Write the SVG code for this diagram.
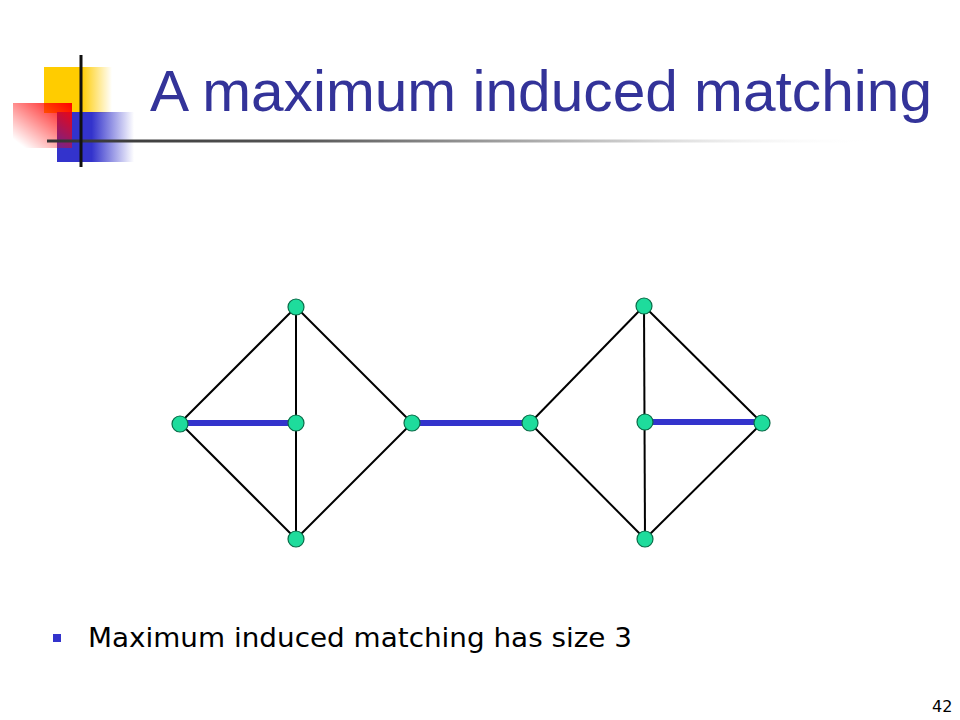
<svg xmlns="http://www.w3.org/2000/svg" width="960" height="720" viewBox="0 0 960 720">
<defs>
<linearGradient id="gY" x1="0" y1="0" x2="1" y2="0">
<stop offset="0" stop-color="#ffcc00"/><stop offset="0.55" stop-color="#ffcc00"/><stop offset="1" stop-color="#ffcc00" stop-opacity="0"/>
</linearGradient>
<linearGradient id="gB" x1="0" y1="0" x2="1" y2="0">
<stop offset="0" stop-color="#3333cc"/><stop offset="0.45" stop-color="#3333cc"/><stop offset="1" stop-color="#3333cc" stop-opacity="0"/>
</linearGradient>
<linearGradient id="gR" x1="1" y1="0" x2="0" y2="1">
<stop offset="0" stop-color="#ff0000"/><stop offset="0.9" stop-color="#ff0000" stop-opacity="0"/>
</linearGradient>
<linearGradient id="gL" x1="0" y1="0" x2="1" y2="0">
<stop offset="0" stop-color="#333333"/><stop offset="0.3" stop-color="#555555"/><stop offset="0.7" stop-color="#cccccc"/><stop offset="1" stop-color="#ffffff" stop-opacity="0"/>
</linearGradient>
<style>
.e{stroke:#000;stroke-width:2;fill:none}
.m{stroke:#3333cc;stroke-width:6;fill:none}
.n{fill:#1edc9c;stroke:#0a6b48;stroke-width:1.2}
.t{font-family:"DejaVu Sans","Liberation Sans",sans-serif}
.h{font-family:"Liberation Sans",Arial,sans-serif}
</style>
</defs>
<rect width="960" height="720" fill="#fff"/>
<g id="logo">
<rect x="44" y="67" width="68" height="46" fill="url(#gY)"/>
<rect x="57" y="112" width="77" height="50" fill="url(#gB)"/>
<rect x="13" y="103" width="59" height="45" fill="url(#gR)"/>
<rect x="47" y="139.5" width="828" height="3" fill="url(#gL)"/>
<line x1="81" y1="55" x2="81" y2="167" stroke="#111" stroke-width="3"/>
</g>
<text class="h" x="150" y="111" font-size="58" fill="#333399" textLength="782" lengthAdjust="spacingAndGlyphs">A maximum induced matching</text>
<g id="edges">
<line class="e" x1="296" y1="307" x2="180" y2="423"/>
<line class="e" x1="296" y1="307" x2="412" y2="423"/>
<line class="e" x1="296" y1="307" x2="296" y2="539"/>
<line class="e" x1="180" y1="423" x2="296" y2="539"/>
<line class="e" x1="412" y1="423" x2="296" y2="539"/>
<line class="m" x1="180" y1="423" x2="296" y2="423"/>
<line class="m" x1="412" y1="423" x2="530" y2="423"/>
<line class="e" x1="644" y1="306" x2="530" y2="423"/>
<line class="e" x1="644" y1="306" x2="762" y2="423"/>
<line class="e" x1="644" y1="306" x2="645" y2="539"/>
<line class="e" x1="530" y1="423" x2="645" y2="539"/>
<line class="e" x1="762" y1="423" x2="645" y2="539"/>
<line class="m" x1="645" y1="422" x2="762" y2="422"/>
</g>
<g id="n1"><circle class="n" cx="296" cy="307" r="8"/></g>
<g id="n2"><circle class="n" cx="180" cy="424" r="8"/></g>
<g id="n3"><circle class="n" cx="296" cy="423" r="8"/></g>
<g id="n4"><circle class="n" cx="412" cy="423" r="8"/></g>
<g id="n5"><circle class="n" cx="296" cy="539" r="8"/></g>
<g id="n6"><circle class="n" cx="644" cy="306" r="8"/></g>
<g id="n7"><circle class="n" cx="530" cy="423" r="8"/></g>
<g id="n8"><circle class="n" cx="645" cy="422" r="8"/></g>
<g id="n9"><circle class="n" cx="762" cy="423" r="8"/></g>
<g id="n10"><circle class="n" cx="645" cy="539" r="8"/></g>
<rect x="53" y="634" width="8" height="8" fill="#3333cc"/>
<text class="t" x="88" y="647" font-size="27" fill="#000" textLength="544" lengthAdjust="spacingAndGlyphs">Maximum induced matching has size 3</text>
<text class="t" x="932" y="712" font-size="16" fill="#000">42</text>
</svg>
